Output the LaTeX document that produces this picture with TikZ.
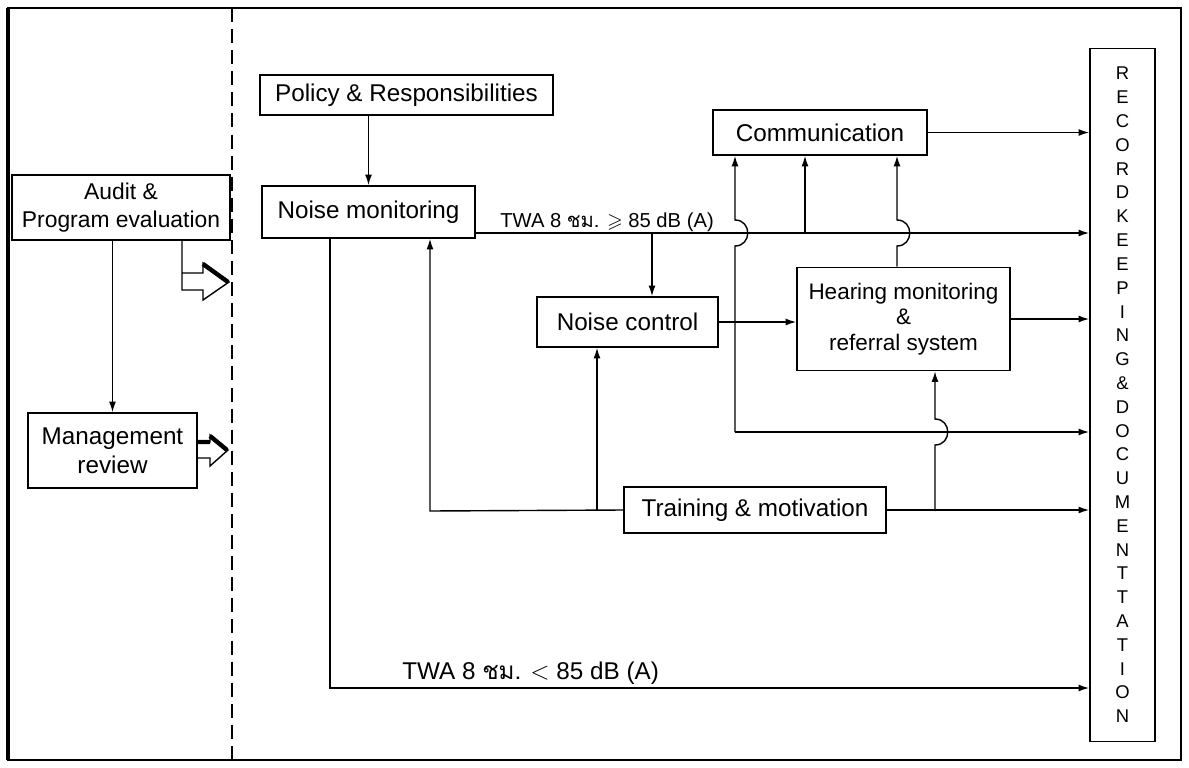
\documentclass[tikz,border=0pt]{standalone}
\usepackage{amssymb}
\usepackage{fontspec}
\setmainfont{Liberation Sans}
\newfontfamily\thaifont[Script=Thai]{Loma}
\usetikzlibrary{arrows.meta,calc}

\begin{document}
\begin{tikzpicture}[x=0.02cm,y=-0.02cm,
  box/.style={draw, line width=1pt, inner sep=0pt, align=center, font=\fontsize{13.8}{16.4}\selectfont},
  conn/.style={line width=0.8pt},
  arr/.style={conn, -{Latex[length=6pt,width=4pt]}},
  lbl/.style={inner sep=0pt, anchor=base west}]
\useasboundingbox (0,0) rectangle (1189,767);
% frame and divider
\draw[line width=1.2pt] (8,8) rectangle (1181,760);
\draw[line width=2pt] (8,8) -- (8,760);
\draw[line width=0.9pt, dash pattern=on 8pt off 4pt] (232,8) -- (232,760);

% left column
\node[box, minimum width=4.36cm, minimum height=1.3cm, font=\fontsize{13}{16.4}\selectfont] (audit) at (121,207.5) {Audit \&\\Program evaluation};
\node[box, minimum width=3.38cm, minimum height=1.5cm] (mgmt) at (112.5,450.5) {Management\\review};
\draw[arr] (audit.south -| mgmt.north) -- (mgmt.north);

% hollow arrows to the divider
\coordinate (h1) at (182,273);
\coordinate (h2) at (197,442);
\draw[conn] (audit.south -| h1) -- (182,290) -- (203,290) -- (203,300) -- (229,282) -- (203,263) -- (203,273) -- (h1);
\draw[line width=2.5pt] (203,264) -- (228,282);
\draw[conn] (h2) -- (210,442) -- (210,435) -- (228,450) -- (210,466) -- (210,458) -- (mgmt.east |- 0,458);
\draw[line width=2.5pt] (h2) -- (210,442) (210,436) -- (227,450);

% boxes
\node[box, minimum width=5.86cm, minimum height=0.8cm] (policy) at (406.5,95) {Policy \& Responsibilities};
\node[box, minimum width=4.26cm, minimum height=1.04cm] (nmon) at (368.5,212) {Noise monitoring};
\node[box, minimum width=3.62cm, minimum height=1cm] (ncontrol) at (627.5,322) {Noise control};
\node[box, minimum width=4.26cm, minimum height=2.06cm, font=\fontsize{12.8}{14.6}\selectfont] (hearing) at (903.5,319) {Hearing monitoring\\\&\\referral system};
\node[box, minimum width=4.28cm, minimum height=0.9cm] (comm) at (820,132.5) {Communication};
\node[box, minimum width=5.24cm, minimum height=0.92cm] (training) at (755,510) {Training \& motivation};
\node[box, minimum width=1.3cm, minimum height=13.86cm, font=\fontsize{10.5}{13.55}\selectfont] (record) at (1122.5,395)
  {R\\E\\C\\O\\R\\D\\K\\E\\E\\P\\I\\N\\G\\\&\\D\\O\\C\\U\\M\\E\\N\\T\\T\\A\\T\\I\\O\\N};

% bends and crossings
\coordinate (c1) at (735,432);
\coordinate (c2) at (805,233);
\coordinate (c3) at (652,233);
\coordinate (c4) at (430,511);
\coordinate (c5) at (597,511);
\coordinate (c6) at (935,511);
\coordinate (c7) at (330,688);
\coordinate (j1) at (735,233);
\coordinate (j2) at (897,233);
\coordinate (j3) at (935,432);

% connectors
\draw[arr] (policy.south -| nmon.north) -- (nmon.north);
\draw[arr] (nmon.east |- c3) -- (record.west |- c3);
\node[lbl, font=\fontsize{11.5}{13}\selectfont] (twa1) at (500,227) {TWA 8 {\thaifont ชม.} $\geqslant$ 85 dB (A)};
\draw[arr] (c3) -- (ncontrol.north -| c3);
\draw[arr] (c2) -- (comm.south -| c2);
\draw[arr] (ncontrol.east) -- (hearing.west |- ncontrol.east);
\draw[arr] (hearing.east) -- (record.west |- hearing.east);
\draw[arr] (comm.east) -- (record.west |- comm.east);
\draw[arr] (c1) -- ($(j1)+(0,13)$) .. controls ($(j1)+(17,13)$) and ($(j1)+(17,-13)$) .. ($(j1)+(0,-13)$) -- (comm.south -| c1);
\draw[arr] (c1) -- (record.west |- c1);
\draw[arr] (hearing.north -| j2) -- ($(j2)+(0,13)$) .. controls ($(j2)+(17,13)$) and ($(j2)+(17,-13)$) .. ($(j2)+(0,-13)$) -- (comm.south -| j2);
\draw[arr] (training.west) -- (c4) -- (nmon.south -| c4);
\draw[arr] (c5) -- (ncontrol.south -| c5);
\draw[arr] (training.east) -- (record.west |- training.east);
\draw[arr] (c6) -- ($(j3)+(0,13)$) .. controls ($(j3)+(17,13)$) and ($(j3)+(17,-13)$) .. ($(j3)+(0,-13)$) -- (hearing.south -| c6);
\draw[arr] (nmon.south -| c7) -- (c7) -- (record.west |- c7);
\node[lbl, font=\fontsize{13.8}{15}\selectfont] (twa2) at (402,679) {TWA 8 {\thaifont ชม.} $<$ 85 dB (A)};
\end{tikzpicture}
\end{document}
